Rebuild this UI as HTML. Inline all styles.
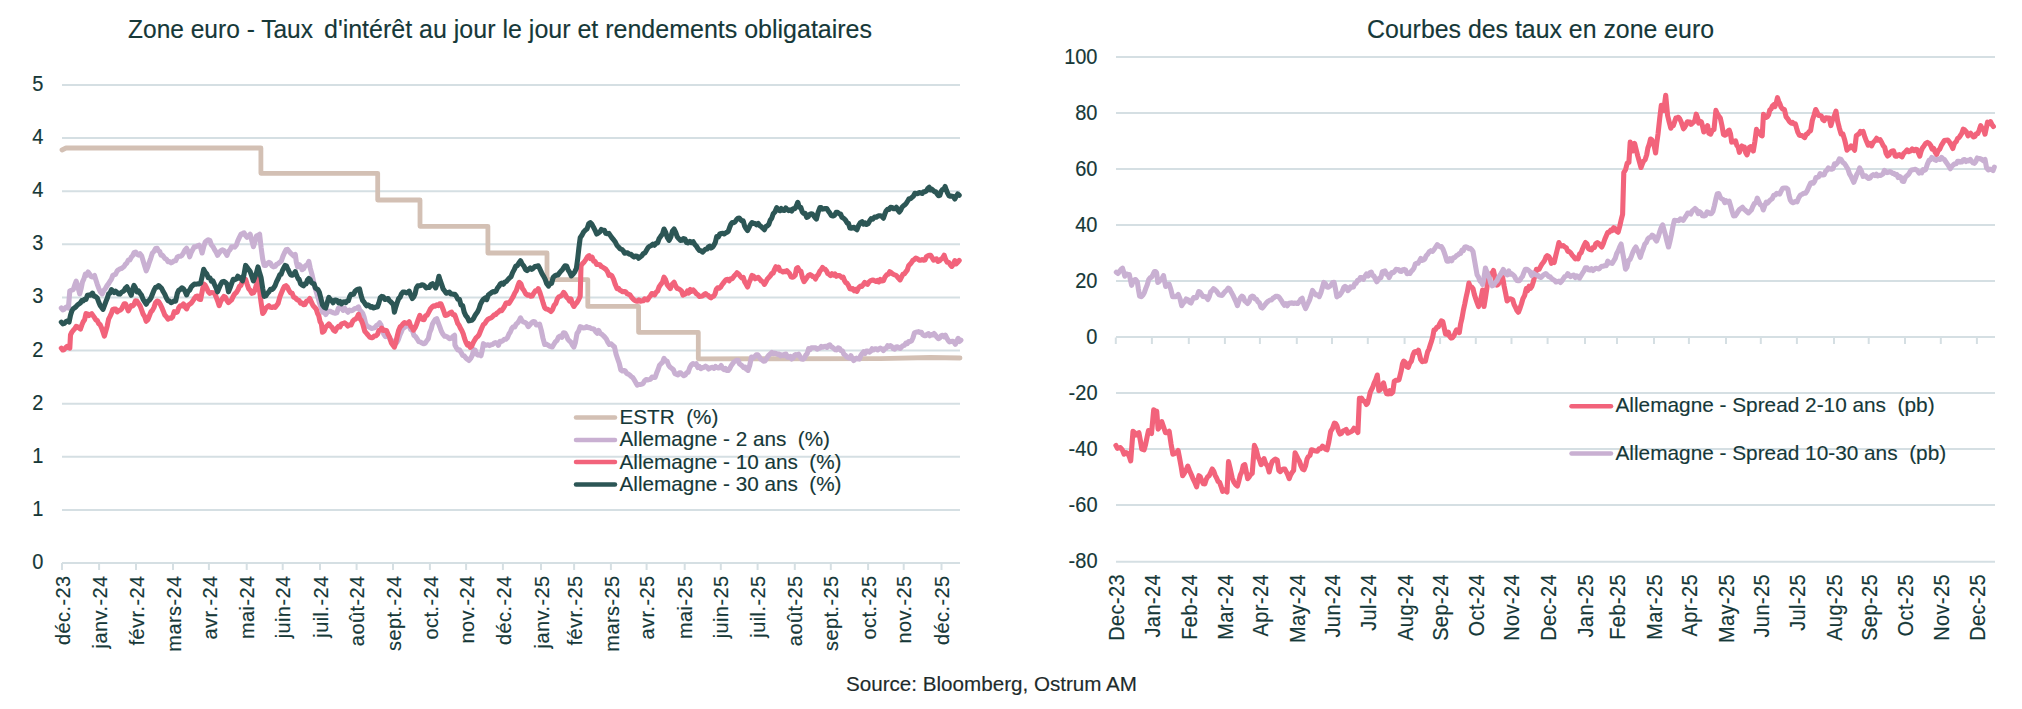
<!DOCTYPE html><html><head><meta charset="utf-8"><style>html,body{margin:0;padding:0;background:#fff;}svg{display:block;}text{font-family:"Liberation Sans",sans-serif;fill:#163838;white-space:pre;stroke:#163838;stroke-width:0.15px;}</style></head><body>
<svg width="2022" height="709" viewBox="0 0 2022 709">
<rect width="2022" height="709" fill="#fff"/>
<text x="128" y="38" font-size="25.4" textLength="185" lengthAdjust="spacingAndGlyphs">Zone euro - Taux</text>
<text x="324" y="38" font-size="25.4" textLength="548" lengthAdjust="spacingAndGlyphs">d'intérêt au jour le jour et rendements obligataires</text>
<text x="1367" y="38" font-size="25.4" textLength="347" lengthAdjust="spacingAndGlyphs">Courbes des taux en zone euro</text>
<text x="846" y="690.5" font-size="20.5" style="fill:#1e2b2b;stroke:#1e2b2b" textLength="291" lengthAdjust="spacingAndGlyphs">Source: Bloomberg, Ostrum AM</text>
<line x1="62" x2="960" y1="563.00" y2="563.00" stroke="#d5dfe3" stroke-width="2"/>
<text transform="translate(43.5,569.00) scale(1,1.06)" font-size="20" text-anchor="end">0</text>
<line x1="62" x2="960" y1="509.89" y2="509.89" stroke="#d5dfe3" stroke-width="2"/>
<text transform="translate(43.5,515.89) scale(1,1.06)" font-size="20" text-anchor="end">1</text>
<line x1="62" x2="960" y1="456.78" y2="456.78" stroke="#d5dfe3" stroke-width="2"/>
<text transform="translate(43.5,462.78) scale(1,1.06)" font-size="20" text-anchor="end">1</text>
<line x1="62" x2="960" y1="403.67" y2="403.67" stroke="#d5dfe3" stroke-width="2"/>
<text transform="translate(43.5,409.67) scale(1,1.06)" font-size="20" text-anchor="end">2</text>
<line x1="62" x2="960" y1="350.56" y2="350.56" stroke="#d5dfe3" stroke-width="2"/>
<text transform="translate(43.5,356.56) scale(1,1.06)" font-size="20" text-anchor="end">2</text>
<line x1="62" x2="960" y1="297.44" y2="297.44" stroke="#d5dfe3" stroke-width="2"/>
<text transform="translate(43.5,303.44) scale(1,1.06)" font-size="20" text-anchor="end">3</text>
<line x1="62" x2="960" y1="244.33" y2="244.33" stroke="#d5dfe3" stroke-width="2"/>
<text transform="translate(43.5,250.33) scale(1,1.06)" font-size="20" text-anchor="end">3</text>
<line x1="62" x2="960" y1="191.22" y2="191.22" stroke="#d5dfe3" stroke-width="2"/>
<text transform="translate(43.5,197.22) scale(1,1.06)" font-size="20" text-anchor="end">4</text>
<line x1="62" x2="960" y1="138.11" y2="138.11" stroke="#d5dfe3" stroke-width="2"/>
<text transform="translate(43.5,144.11) scale(1,1.06)" font-size="20" text-anchor="end">4</text>
<line x1="62" x2="960" y1="85.00" y2="85.00" stroke="#d5dfe3" stroke-width="2"/>
<text transform="translate(43.5,91.00) scale(1,1.06)" font-size="20" text-anchor="end">5</text>
<line x1="62.0" x2="62.0" y1="563" y2="570" stroke="#d5dfe3" stroke-width="2"/>
<text transform="translate(69.6,575.5) rotate(-90)" font-size="20" letter-spacing="0.4" text-anchor="end">déc.-23</text>
<line x1="99.1" x2="99.1" y1="563" y2="570" stroke="#d5dfe3" stroke-width="2"/>
<text transform="translate(106.7,575.5) rotate(-90)" font-size="20" letter-spacing="0.4" text-anchor="end">janv.-24</text>
<line x1="136.0" x2="136.0" y1="563" y2="570" stroke="#d5dfe3" stroke-width="2"/>
<text transform="translate(143.6,575.5) rotate(-90)" font-size="20" letter-spacing="0.4" text-anchor="end">févr.-24</text>
<line x1="173.0" x2="173.0" y1="563" y2="570" stroke="#d5dfe3" stroke-width="2"/>
<text transform="translate(180.6,575.5) rotate(-90)" font-size="20" letter-spacing="0.4" text-anchor="end">mars-24</text>
<line x1="208.9" x2="208.9" y1="563" y2="570" stroke="#d5dfe3" stroke-width="2"/>
<text transform="translate(216.5,575.5) rotate(-90)" font-size="20" letter-spacing="0.4" text-anchor="end">avr.-24</text>
<line x1="246.7" x2="246.7" y1="563" y2="570" stroke="#d5dfe3" stroke-width="2"/>
<text transform="translate(254.3,575.5) rotate(-90)" font-size="20" letter-spacing="0.4" text-anchor="end">mai-24</text>
<line x1="282.7" x2="282.7" y1="563" y2="570" stroke="#d5dfe3" stroke-width="2"/>
<text transform="translate(290.3,575.5) rotate(-90)" font-size="20" letter-spacing="0.4" text-anchor="end">juin-24</text>
<line x1="320.0" x2="320.0" y1="563" y2="570" stroke="#d5dfe3" stroke-width="2"/>
<text transform="translate(327.6,575.5) rotate(-90)" font-size="20" letter-spacing="0.4" text-anchor="end">juil.-24</text>
<line x1="356.6" x2="356.6" y1="563" y2="570" stroke="#d5dfe3" stroke-width="2"/>
<text transform="translate(364.2,575.5) rotate(-90)" font-size="20" letter-spacing="0.4" text-anchor="end">août-24</text>
<line x1="393.0" x2="393.0" y1="563" y2="570" stroke="#d5dfe3" stroke-width="2"/>
<text transform="translate(400.6,575.5) rotate(-90)" font-size="20" letter-spacing="0.4" text-anchor="end">sept.-24</text>
<line x1="429.9" x2="429.9" y1="563" y2="570" stroke="#d5dfe3" stroke-width="2"/>
<text transform="translate(437.5,575.5) rotate(-90)" font-size="20" letter-spacing="0.4" text-anchor="end">oct.-24</text>
<line x1="466.1" x2="466.1" y1="563" y2="570" stroke="#d5dfe3" stroke-width="2"/>
<text transform="translate(473.7,575.5) rotate(-90)" font-size="20" letter-spacing="0.4" text-anchor="end">nov.-24</text>
<line x1="502.9" x2="502.9" y1="563" y2="570" stroke="#d5dfe3" stroke-width="2"/>
<text transform="translate(510.5,575.5) rotate(-90)" font-size="20" letter-spacing="0.4" text-anchor="end">déc.-24</text>
<line x1="541.0" x2="541.0" y1="563" y2="570" stroke="#d5dfe3" stroke-width="2"/>
<text transform="translate(548.6,575.5) rotate(-90)" font-size="20" letter-spacing="0.4" text-anchor="end">janv.-25</text>
<line x1="574.1" x2="574.1" y1="563" y2="570" stroke="#d5dfe3" stroke-width="2"/>
<text transform="translate(581.7,575.5) rotate(-90)" font-size="20" letter-spacing="0.4" text-anchor="end">févr.-25</text>
<line x1="610.9" x2="610.9" y1="563" y2="570" stroke="#d5dfe3" stroke-width="2"/>
<text transform="translate(618.5,575.5) rotate(-90)" font-size="20" letter-spacing="0.4" text-anchor="end">mars-25</text>
<line x1="646.6" x2="646.6" y1="563" y2="570" stroke="#d5dfe3" stroke-width="2"/>
<text transform="translate(654.2,575.5) rotate(-90)" font-size="20" letter-spacing="0.4" text-anchor="end">avr.-25</text>
<line x1="684.7" x2="684.7" y1="563" y2="570" stroke="#d5dfe3" stroke-width="2"/>
<text transform="translate(692.3,575.5) rotate(-90)" font-size="20" letter-spacing="0.4" text-anchor="end">mai-25</text>
<line x1="720.8" x2="720.8" y1="563" y2="570" stroke="#d5dfe3" stroke-width="2"/>
<text transform="translate(728.4,575.5) rotate(-90)" font-size="20" letter-spacing="0.4" text-anchor="end">juin-25</text>
<line x1="757.6" x2="757.6" y1="563" y2="570" stroke="#d5dfe3" stroke-width="2"/>
<text transform="translate(765.2,575.5) rotate(-90)" font-size="20" letter-spacing="0.4" text-anchor="end">juil.-25</text>
<line x1="794.8" x2="794.8" y1="563" y2="570" stroke="#d5dfe3" stroke-width="2"/>
<text transform="translate(802.4,575.5) rotate(-90)" font-size="20" letter-spacing="0.4" text-anchor="end">août-25</text>
<line x1="830.8" x2="830.8" y1="563" y2="570" stroke="#d5dfe3" stroke-width="2"/>
<text transform="translate(838.4,575.5) rotate(-90)" font-size="20" letter-spacing="0.4" text-anchor="end">sept.-25</text>
<line x1="868.1" x2="868.1" y1="563" y2="570" stroke="#d5dfe3" stroke-width="2"/>
<text transform="translate(875.7,575.5) rotate(-90)" font-size="20" letter-spacing="0.4" text-anchor="end">oct.-25</text>
<line x1="903.7" x2="903.7" y1="563" y2="570" stroke="#d5dfe3" stroke-width="2"/>
<text transform="translate(911.3,575.5) rotate(-90)" font-size="20" letter-spacing="0.4" text-anchor="end">nov.-25</text>
<line x1="941.5" x2="941.5" y1="563" y2="570" stroke="#d5dfe3" stroke-width="2"/>
<text transform="translate(949.1,575.5) rotate(-90)" font-size="20" letter-spacing="0.4" text-anchor="end">déc.-25</text>
<line x1="1116" x2="1995" y1="57.00" y2="57.00" stroke="#d5dfe3" stroke-width="2"/>
<text transform="translate(1097.5,64.00) scale(1,1.06)" font-size="20" text-anchor="end">100</text>
<line x1="1116" x2="1995" y1="113.00" y2="113.00" stroke="#d5dfe3" stroke-width="2"/>
<text transform="translate(1097.5,120.00) scale(1,1.06)" font-size="20" text-anchor="end">80</text>
<line x1="1116" x2="1995" y1="169.00" y2="169.00" stroke="#d5dfe3" stroke-width="2"/>
<text transform="translate(1097.5,176.00) scale(1,1.06)" font-size="20" text-anchor="end">60</text>
<line x1="1116" x2="1995" y1="225.00" y2="225.00" stroke="#d5dfe3" stroke-width="2"/>
<text transform="translate(1097.5,232.00) scale(1,1.06)" font-size="20" text-anchor="end">40</text>
<line x1="1116" x2="1995" y1="281.00" y2="281.00" stroke="#d5dfe3" stroke-width="2"/>
<text transform="translate(1097.5,288.00) scale(1,1.06)" font-size="20" text-anchor="end">20</text>
<line x1="1116" x2="1995" y1="337.00" y2="337.00" stroke="#d5dfe3" stroke-width="2"/>
<text transform="translate(1097.5,344.00) scale(1,1.06)" font-size="20" text-anchor="end">0</text>
<line x1="1116" x2="1995" y1="393.00" y2="393.00" stroke="#d5dfe3" stroke-width="2"/>
<text transform="translate(1097.5,400.00) scale(1,1.06)" font-size="20" text-anchor="end">-20</text>
<line x1="1116" x2="1995" y1="449.00" y2="449.00" stroke="#d5dfe3" stroke-width="2"/>
<text transform="translate(1097.5,456.00) scale(1,1.06)" font-size="20" text-anchor="end">-40</text>
<line x1="1116" x2="1995" y1="505.00" y2="505.00" stroke="#d5dfe3" stroke-width="2"/>
<text transform="translate(1097.5,512.00) scale(1,1.06)" font-size="20" text-anchor="end">-60</text>
<line x1="1116" x2="1995" y1="561.80" y2="561.80" stroke="#d5dfe3" stroke-width="2"/>
<text transform="translate(1097.5,568.00) scale(1,1.06)" font-size="20" text-anchor="end">-80</text>
<line x1="1115.8" x2="1115.8" y1="337.5" y2="344" stroke="#d5dfe3" stroke-width="2"/>
<text transform="translate(1123.7,574) rotate(-90) scale(1,1.06)" font-size="20" letter-spacing="0.4" text-anchor="end">Dec-23</text>
<line x1="1151.9" x2="1151.9" y1="337.5" y2="344" stroke="#d5dfe3" stroke-width="2"/>
<text transform="translate(1159.8,574) rotate(-90) scale(1,1.06)" font-size="20" letter-spacing="0.4" text-anchor="end">Jan-24</text>
<line x1="1188.8" x2="1188.8" y1="337.5" y2="344" stroke="#d5dfe3" stroke-width="2"/>
<text transform="translate(1196.7,574) rotate(-90) scale(1,1.06)" font-size="20" letter-spacing="0.4" text-anchor="end">Feb-24</text>
<line x1="1224.9" x2="1224.9" y1="337.5" y2="344" stroke="#d5dfe3" stroke-width="2"/>
<text transform="translate(1232.8,574) rotate(-90) scale(1,1.06)" font-size="20" letter-spacing="0.4" text-anchor="end">Mar-24</text>
<line x1="1259.9" x2="1259.9" y1="337.5" y2="344" stroke="#d5dfe3" stroke-width="2"/>
<text transform="translate(1267.8,574) rotate(-90) scale(1,1.06)" font-size="20" letter-spacing="0.4" text-anchor="end">Apr-24</text>
<line x1="1296.8" x2="1296.8" y1="337.5" y2="344" stroke="#d5dfe3" stroke-width="2"/>
<text transform="translate(1304.7,574) rotate(-90) scale(1,1.06)" font-size="20" letter-spacing="0.4" text-anchor="end">May-24</text>
<line x1="1332.0" x2="1332.0" y1="337.5" y2="344" stroke="#d5dfe3" stroke-width="2"/>
<text transform="translate(1339.9,574) rotate(-90) scale(1,1.06)" font-size="20" letter-spacing="0.4" text-anchor="end">Jun-24</text>
<line x1="1367.8" x2="1367.8" y1="337.5" y2="344" stroke="#d5dfe3" stroke-width="2"/>
<text transform="translate(1375.7,574) rotate(-90) scale(1,1.06)" font-size="20" letter-spacing="0.4" text-anchor="end">Jul-24</text>
<line x1="1404.6" x2="1404.6" y1="337.5" y2="344" stroke="#d5dfe3" stroke-width="2"/>
<text transform="translate(1412.5,574) rotate(-90) scale(1,1.06)" font-size="20" letter-spacing="0.4" text-anchor="end">Aug-24</text>
<line x1="1440.1" x2="1440.1" y1="337.5" y2="344" stroke="#d5dfe3" stroke-width="2"/>
<text transform="translate(1448.0,574) rotate(-90) scale(1,1.06)" font-size="20" letter-spacing="0.4" text-anchor="end">Sep-24</text>
<line x1="1475.8" x2="1475.8" y1="337.5" y2="344" stroke="#d5dfe3" stroke-width="2"/>
<text transform="translate(1483.7,574) rotate(-90) scale(1,1.06)" font-size="20" letter-spacing="0.4" text-anchor="end">Oct-24</text>
<line x1="1511.5" x2="1511.5" y1="337.5" y2="344" stroke="#d5dfe3" stroke-width="2"/>
<text transform="translate(1519.4,574) rotate(-90) scale(1,1.06)" font-size="20" letter-spacing="0.4" text-anchor="end">Nov-24</text>
<line x1="1547.6" x2="1547.6" y1="337.5" y2="344" stroke="#d5dfe3" stroke-width="2"/>
<text transform="translate(1555.5,574) rotate(-90) scale(1,1.06)" font-size="20" letter-spacing="0.4" text-anchor="end">Dec-24</text>
<line x1="1585.0" x2="1585.0" y1="337.5" y2="344" stroke="#d5dfe3" stroke-width="2"/>
<text transform="translate(1592.9,574) rotate(-90) scale(1,1.06)" font-size="20" letter-spacing="0.4" text-anchor="end">Jan-25</text>
<line x1="1617.0" x2="1617.0" y1="337.5" y2="344" stroke="#d5dfe3" stroke-width="2"/>
<text transform="translate(1624.9,574) rotate(-90) scale(1,1.06)" font-size="20" letter-spacing="0.4" text-anchor="end">Feb-25</text>
<line x1="1654.0" x2="1654.0" y1="337.5" y2="344" stroke="#d5dfe3" stroke-width="2"/>
<text transform="translate(1661.9,574) rotate(-90) scale(1,1.06)" font-size="20" letter-spacing="0.4" text-anchor="end">Mar-25</text>
<line x1="1688.9" x2="1688.9" y1="337.5" y2="344" stroke="#d5dfe3" stroke-width="2"/>
<text transform="translate(1696.8,574) rotate(-90) scale(1,1.06)" font-size="20" letter-spacing="0.4" text-anchor="end">Apr-25</text>
<line x1="1726.0" x2="1726.0" y1="337.5" y2="344" stroke="#d5dfe3" stroke-width="2"/>
<text transform="translate(1733.9,574) rotate(-90) scale(1,1.06)" font-size="20" letter-spacing="0.4" text-anchor="end">May-25</text>
<line x1="1760.8" x2="1760.8" y1="337.5" y2="344" stroke="#d5dfe3" stroke-width="2"/>
<text transform="translate(1768.7,574) rotate(-90) scale(1,1.06)" font-size="20" letter-spacing="0.4" text-anchor="end">Jun-25</text>
<line x1="1796.9" x2="1796.9" y1="337.5" y2="344" stroke="#d5dfe3" stroke-width="2"/>
<text transform="translate(1804.8,574) rotate(-90) scale(1,1.06)" font-size="20" letter-spacing="0.4" text-anchor="end">Jul-25</text>
<line x1="1834.0" x2="1834.0" y1="337.5" y2="344" stroke="#d5dfe3" stroke-width="2"/>
<text transform="translate(1841.9,574) rotate(-90) scale(1,1.06)" font-size="20" letter-spacing="0.4" text-anchor="end">Aug-25</text>
<line x1="1868.7" x2="1868.7" y1="337.5" y2="344" stroke="#d5dfe3" stroke-width="2"/>
<text transform="translate(1876.6,574) rotate(-90) scale(1,1.06)" font-size="20" letter-spacing="0.4" text-anchor="end">Sep-25</text>
<line x1="1905.0" x2="1905.0" y1="337.5" y2="344" stroke="#d5dfe3" stroke-width="2"/>
<text transform="translate(1912.9,574) rotate(-90) scale(1,1.06)" font-size="20" letter-spacing="0.4" text-anchor="end">Oct-25</text>
<line x1="1940.8" x2="1940.8" y1="337.5" y2="344" stroke="#d5dfe3" stroke-width="2"/>
<text transform="translate(1948.7,574) rotate(-90) scale(1,1.06)" font-size="20" letter-spacing="0.4" text-anchor="end">Nov-25</text>
<line x1="1976.9" x2="1976.9" y1="337.5" y2="344" stroke="#d5dfe3" stroke-width="2"/>
<text transform="translate(1984.8,574) rotate(-90) scale(1,1.06)" font-size="20" letter-spacing="0.4" text-anchor="end">Dec-25</text>
<path d="M62.0,150.0 L66.0,148.0 L260.9,148.0 L260.9,173.3 L377.7,173.3 L377.7,200.0 L420.0,200.0 L420.0,226.3 L487.9,226.3 L487.9,253.0 L547.0,253.0 L547.0,279.7 L587.8,279.7 L587.8,306.4 L638.6,306.4 L638.6,332.3 L698.3,332.3 L698.3,358.8 L880.0,358.6 L930.0,357.5 L960.0,358.0" fill="none" stroke="#d3c0b4" stroke-width="4.8" stroke-linejoin="round" stroke-linecap="round"/>
<path d="M61.3,308.0 L62.8,309.8 L64.2,309.3 L65.6,307.5 L67.0,306.8 L68.4,308.0 L69.8,291.0 L71.2,290.3 L73.3,289.6 L74.7,285.2 L76.2,281.2 L77.9,286.9 L79.7,293.9 L81.1,288.7 L82.5,281.8 L83.9,278.9 L85.3,274.1 L86.7,275.3 L88.1,272.0 L89.6,274.0 L91.0,276.6 L92.4,276.9 L94.5,275.5 L95.9,279.9 L97.3,284.3 L98.7,288.2 L100.5,292.1 L102.2,293.9 L103.9,290.3 L105.5,288.3 L107.2,285.4 L108.6,283.6 L110.0,281.2 L111.4,279.2 L112.8,275.5 L114.2,274.7 L115.6,274.3 L117.1,271.0 L118.5,269.8 L119.9,268.9 L121.3,268.5 L122.7,267.6 L124.1,266.5 L125.5,264.2 L126.9,263.0 L128.3,260.1 L129.8,260.0 L131.2,257.3 L132.7,255.6 L134.1,252.6 L135.6,252.0 L137.1,254.3 L138.5,255.1 L140.0,253.7 L141.6,255.8 L143.1,260.7 L144.7,266.1 L146.2,270.8 L147.8,267.0 L149.3,262.3 L150.9,257.8 L152.4,253.0 L154.0,251.5 L155.5,248.6 L157.1,248.3 L158.4,250.7 L159.7,251.4 L161.0,255.3 L162.3,255.1 L163.6,256.7 L164.8,258.4 L166.4,259.2 L168.0,261.7 L169.5,261.5 L171.1,262.9 L172.6,262.0 L174.2,260.7 L175.7,260.7 L177.3,257.1 L178.8,256.4 L180.4,256.3 L181.9,255.3 L183.5,252.8 L185.0,250.0 L186.6,248.3 L188.1,251.3 L189.7,256.8 L191.2,252.4 L192.8,249.5 L194.3,246.7 L195.9,246.7 L197.5,245.9 L199.0,245.2 L200.6,247.6 L202.1,253.0 L203.7,246.8 L205.2,242.1 L206.8,240.6 L208.3,239.7 L209.9,240.5 L211.4,244.9 L213.0,246.7 L214.5,249.6 L216.1,252.2 L217.6,255.3 L219.2,252.9 L220.7,250.9 L222.3,249.8 L223.9,250.6 L225.4,252.7 L227.0,255.3 L228.5,251.3 L230.1,249.7 L231.6,246.7 L233.2,246.8 L234.7,247.1 L236.3,245.2 L237.8,240.8 L239.4,237.4 L240.9,234.4 L242.5,233.6 L244.0,232.8 L245.6,235.6 L247.1,237.4 L248.7,236.0 L250.2,234.3 L251.8,240.6 L253.4,246.7 L254.9,242.0 L256.5,235.9 L258.0,235.4 L259.6,234.3 L261.1,247.5 L262.7,259.2 L264.2,265.4 L265.8,265.4 L267.3,263.5 L268.9,262.3 L270.4,263.0 L272.0,265.9 L273.5,266.9 L275.1,266.4 L276.6,264.3 L278.2,263.6 L279.8,262.3 L281.3,261.1 L282.9,256.4 L284.4,253.0 L286.0,249.8 L287.5,249.4 L289.1,251.3 L290.6,253.1 L292.2,254.5 L293.7,256.0 L295.3,254.5 L296.4,262.6 L297.6,266.9 L299.2,264.6 L300.6,266.1 L302.1,269.7 L303.5,268.9 L304.8,266.6 L306.1,265.2 L307.4,264.6 L308.8,261.4 L310.3,268.4 L311.9,274.1 L313.5,281.2 L315.1,288.1 L316.7,293.2 L318.3,298.5 L319.7,303.7 L321.1,307.3 L322.5,312.2 L324.1,311.8 L325.7,314.6 L327.3,312.3 L328.9,311.2 L330.4,311.4 L332.0,312.2 L333.6,312.9 L335.2,313.3 L336.8,312.9 L338.4,308.1 L340.0,308.1 L341.5,308.0 L343.1,310.3 L344.7,308.3 L346.3,310.3 L347.9,312.2 L349.5,310.2 L351.1,310.7 L352.7,310.2 L354.2,309.0 L355.6,308.5 L357.1,307.9 L358.5,306.9 L359.9,310.4 L361.3,311.5 L362.7,313.3 L364.1,317.2 L365.5,323.2 L366.9,326.0 L368.5,326.8 L370.1,327.6 L371.7,328.5 L373.3,328.1 L374.9,327.5 L376.5,325.5 L378.0,324.7 L379.6,322.8 L381.0,324.9 L382.4,330.5 L383.9,334.4 L385.4,336.6 L387.0,336.3 L388.6,336.1 L390.2,339.7 L391.8,340.3 L393.4,343.4 L395.0,343.2 L396.6,342.9 L398.1,340.1 L399.7,335.6 L401.3,331.9 L402.9,328.1 L404.5,327.5 L406.1,325.9 L407.7,325.8 L409.2,326.0 L410.8,329.6 L412.4,330.5 L414.0,335.5 L415.6,336.6 L417.2,339.0 L418.8,341.6 L420.4,342.1 L421.9,342.9 L423.5,343.7 L425.1,343.2 L426.7,340.9 L428.3,338.7 L429.7,332.5 L431.1,329.3 L432.5,323.9 L433.9,321.4 L435.3,319.4 L436.7,318.6 L438.3,322.9 L439.9,327.2 L441.5,331.6 L443.1,334.4 L444.7,336.3 L446.3,336.4 L447.9,337.3 L449.4,338.7 L451.2,338.3 L452.9,336.6 L454.6,335.3 L454.9,345.0 L456.4,347.8 L457.9,349.9 L459.4,349.7 L461.0,352.3 L462.6,355.3 L464.2,355.9 L465.8,357.8 L467.4,359.3 L469.0,360.5 L470.6,358.5 L472.2,355.5 L473.8,349.7 L475.2,350.1 L476.7,354.1 L478.1,355.1 L479.6,354.6 L481.0,355.7 L482.2,350.7 L483.4,343.7 L484.9,345.3 L486.5,345.1 L488.0,344.7 L489.5,345.6 L491.1,344.7 L492.6,344.5 L494.1,343.1 L495.5,342.6 L497.0,343.0 L498.4,345.4 L499.9,341.3 L501.3,341.5 L502.8,340.7 L504.3,339.2 L505.8,339.2 L507.3,337.9 L508.9,334.2 L510.4,331.8 L511.8,328.5 L513.3,326.8 L514.7,327.0 L516.2,324.0 L517.6,322.9 L519.1,320.8 L520.5,317.8 L522.1,320.9 L523.6,322.1 L525.1,322.4 L526.6,323.6 L528.2,326.7 L529.9,324.8 L531.5,322.9 L533.2,321.6 L534.8,321.8 L536.4,325.0 L538.0,324.8 L539.6,324.2 L541.3,330.4 L543.0,338.4 L544.7,344.5 L546.2,344.1 L547.7,344.9 L549.2,346.0 L550.8,346.5 L552.3,347.0 L553.9,344.3 L555.5,341.7 L557.0,340.5 L558.6,336.9 L560.2,336.0 L561.8,337.3 L563.4,332.9 L565.0,333.1 L566.5,335.8 L567.9,339.3 L569.4,340.9 L570.9,342.2 L572.4,345.2 L573.9,347.0 L575.4,342.4 L577.0,333.5 L578.6,331.1 L580.2,326.7 L581.8,327.1 L583.4,328.0 L585.0,327.8 L586.6,326.7 L588.1,327.7 L589.6,327.6 L591.1,328.4 L592.6,328.7 L594.2,329.2 L595.7,331.7 L597.2,333.2 L598.7,330.4 L600.3,333.5 L601.8,334.3 L603.3,335.6 L604.8,337.1 L606.4,339.1 L607.9,342.3 L609.4,344.5 L611.1,343.8 L612.8,345.5 L614.5,347.0 L616.1,354.3 L617.7,359.0 L619.2,363.2 L620.8,369.9 L622.3,371.0 L623.8,370.5 L625.3,371.0 L626.7,373.4 L628.2,374.1 L629.7,374.9 L631.2,376.5 L632.8,377.6 L634.3,379.9 L635.8,382.6 L637.3,385.1 L638.8,384.5 L640.2,384.5 L641.7,384.1 L643.1,383.4 L644.6,380.8 L646.0,379.5 L647.5,380.0 L649.0,379.6 L650.5,379.2 L652.1,377.0 L653.6,377.4 L655.1,377.5 L656.6,373.1 L658.1,369.5 L659.5,365.2 L661.0,363.7 L662.5,362.3 L664.0,358.4 L665.6,360.6 L667.2,361.4 L668.7,365.3 L670.3,367.3 L671.9,368.5 L673.4,369.8 L674.9,373.6 L676.4,374.3 L677.9,374.9 L679.4,372.9 L680.8,372.9 L682.3,374.5 L683.8,375.7 L685.2,375.0 L686.7,372.8 L688.1,372.4 L689.8,367.5 L691.5,364.6 L693.2,363.5 L694.7,364.5 L696.2,363.7 L697.8,367.5 L699.3,366.4 L700.8,368.6 L702.4,367.8 L704.0,367.3 L705.6,366.2 L707.1,367.1 L708.5,369.0 L709.9,368.2 L711.3,367.6 L712.7,367.3 L714.1,368.3 L715.5,366.4 L716.9,367.6 L718.3,367.9 L719.7,367.7 L721.2,365.5 L722.6,368.4 L724.0,369.7 L725.4,368.5 L726.8,370.4 L728.2,370.5 L729.6,368.9 L731.0,366.0 L732.4,364.1 L733.9,361.9 L735.3,361.1 L736.7,360.3 L738.1,360.2 L739.5,363.9 L740.9,364.8 L742.3,366.0 L743.7,367.6 L745.1,367.0 L746.5,369.3 L748.0,370.4 L749.7,365.4 L751.5,357.0 L753.1,357.9 L754.7,356.7 L756.2,354.9 L757.8,354.9 L759.2,356.7 L760.6,359.0 L762.1,359.9 L763.5,361.2 L764.9,361.0 L766.3,359.0 L767.7,356.6 L769.1,354.9 L770.5,353.8 L771.9,352.4 L773.3,353.7 L774.8,353.1 L776.2,353.5 L777.6,354.5 L779.0,354.0 L780.4,355.8 L781.8,354.8 L783.2,355.7 L784.6,354.2 L786.0,354.1 L787.4,357.1 L788.9,357.3 L790.3,356.4 L791.7,359.1 L793.1,358.0 L794.5,355.3 L795.9,354.5 L797.3,355.2 L798.7,354.2 L800.1,356.8 L801.6,359.0 L803.0,359.2 L804.4,358.4 L805.8,355.0 L807.2,353.6 L808.6,348.7 L810.0,349.6 L811.4,347.8 L812.8,347.8 L814.2,347.7 L815.7,347.8 L817.1,349.2 L818.5,348.5 L819.9,348.1 L821.3,346.4 L822.7,347.2 L824.1,346.5 L825.5,346.4 L826.9,347.4 L828.3,345.5 L829.8,344.8 L831.2,346.7 L832.6,347.4 L834.0,348.5 L835.4,349.7 L836.8,349.9 L838.2,347.8 L839.6,348.5 L841.0,350.6 L842.5,351.0 L843.9,354.3 L845.3,355.1 L846.7,356.8 L848.1,357.7 L849.5,358.1 L850.9,355.7 L852.3,358.6 L853.7,360.5 L855.1,359.3 L856.6,358.1 L858.0,358.9 L859.4,359.1 L860.8,355.5 L862.2,353.5 L863.6,351.8 L865.0,353.5 L866.4,351.0 L867.8,351.1 L869.3,352.1 L870.7,351.1 L872.1,348.7 L873.5,349.9 L874.9,348.9 L876.3,348.8 L877.7,349.9 L879.1,348.8 L880.5,348.1 L881.9,348.9 L883.4,350.6 L884.8,348.7 L886.2,348.1 L887.6,345.7 L889.0,346.5 L890.4,345.5 L891.8,346.5 L893.2,348.7 L894.6,349.2 L896.1,347.1 L897.5,346.8 L898.9,347.9 L900.3,348.5 L901.7,346.7 L903.1,345.6 L904.5,345.2 L905.9,343.0 L907.3,343.6 L908.7,341.5 L910.2,341.6 L911.6,340.8 L913.0,337.7 L914.4,332.9 L915.8,332.3 L917.2,332.1 L918.6,331.6 L920.0,332.5 L921.4,332.3 L922.8,334.7 L924.3,335.8 L925.7,335.8 L927.1,334.3 L928.5,333.7 L929.9,335.7 L931.3,334.5 L932.7,335.0 L934.1,333.5 L935.5,335.1 L937.0,337.3 L938.4,338.7 L939.8,338.0 L941.2,335.7 L942.6,335.3 L944.0,336.7 L945.4,335.1 L946.8,338.1 L948.2,340.4 L949.6,341.9 L951.1,341.5 L952.5,341.3 L953.9,341.7 L955.3,344.3 L956.7,341.5 L958.1,338.3 L959.5,341.5 L960.9,340.1" fill="none" stroke="#c9b0d2" stroke-width="5.1" stroke-linejoin="round" stroke-linecap="round"/>
<path d="M61.3,348.2 L62.8,350.0 L64.2,349.5 L65.6,347.7 L67.0,346.5 L68.4,347.7 L69.8,348.2 L70.5,334.8 L71.9,332.0 L73.3,330.3 L74.7,328.8 L76.2,326.3 L77.6,326.9 L79.0,328.0 L80.4,329.1 L81.8,325.1 L83.2,321.7 L84.6,319.7 L86.0,313.6 L87.4,314.0 L88.9,315.5 L90.3,314.4 L91.7,313.6 L93.1,315.6 L94.5,317.6 L95.9,319.9 L97.3,320.6 L98.7,323.6 L100.1,324.6 L101.5,327.7 L103.0,332.0 L104.4,336.2 L105.8,331.0 L107.2,326.1 L108.6,319.2 L110.0,316.4 L111.4,313.4 L112.8,309.4 L114.2,309.1 L115.6,309.0 L117.1,311.9 L118.5,310.8 L119.9,310.2 L121.3,309.4 L122.7,306.8 L124.1,303.8 L125.5,303.7 L126.9,307.0 L128.3,310.8 L129.8,307.9 L131.2,305.6 L132.6,306.0 L134.0,304.5 L135.4,300.9 L136.9,301.1 L138.5,303.5 L140.0,305.7 L141.6,309.9 L143.1,314.1 L144.7,316.7 L146.2,321.3 L147.8,319.7 L149.3,316.0 L150.9,311.9 L152.4,310.4 L154.0,307.4 L155.5,302.7 L157.1,301.1 L158.6,301.4 L160.2,304.2 L161.7,307.3 L163.3,311.2 L164.8,315.1 L166.4,316.8 L168.0,319.1 L169.5,318.0 L171.1,318.2 L172.6,316.9 L174.2,311.7 L175.7,312.5 L177.3,312.0 L178.8,307.6 L180.4,305.7 L181.9,305.9 L183.5,303.9 L185.0,306.9 L186.6,308.9 L188.1,305.4 L189.7,304.2 L191.2,303.1 L192.8,301.0 L194.3,298.6 L195.9,296.4 L197.5,296.0 L199.0,299.0 L200.6,299.5 L202.1,291.8 L203.7,284.0 L205.2,285.3 L206.8,288.2 L208.3,291.8 L209.9,293.4 L211.4,292.5 L213.0,292.7 L214.5,293.3 L216.1,296.9 L217.6,300.8 L219.2,305.7 L220.7,301.5 L222.3,298.7 L223.9,296.4 L225.4,297.3 L227.0,300.7 L228.5,302.6 L230.1,301.2 L231.6,299.9 L233.2,296.4 L234.7,293.9 L236.3,292.5 L237.8,290.2 L239.4,286.4 L240.9,285.4 L242.5,280.9 L244.0,280.0 L245.6,279.3 L247.1,284.1 L248.7,288.7 L250.2,290.3 L251.8,293.3 L253.4,292.9 L254.9,290.2 L256.5,284.4 L258.0,277.8 L259.6,291.0 L261.1,302.5 L262.7,313.5 L264.2,311.8 L265.8,308.3 L267.3,306.8 L268.9,305.7 L270.4,307.3 L272.0,307.5 L273.5,306.7 L275.1,307.3 L276.6,305.4 L278.2,303.2 L279.8,297.1 L281.3,293.3 L282.9,289.5 L284.4,286.5 L286.0,285.6 L287.5,287.3 L289.1,290.6 L290.6,292.9 L292.2,293.3 L293.7,297.2 L295.3,297.8 L296.8,299.5 L298.0,300.1 L299.2,300.6 L300.6,303.3 L302.1,303.0 L303.5,304.8 L305.0,304.5 L306.6,301.1 L308.2,300.6 L309.8,298.5 L311.4,302.1 L313.0,305.5 L314.6,307.2 L316.2,309.0 L317.5,313.4 L318.8,315.9 L320.1,321.7 L321.4,323.9 L322.5,332.3 L324.1,331.0 L325.7,327.2 L327.3,325.7 L328.9,323.9 L330.4,325.9 L332.0,327.4 L333.6,330.4 L335.2,331.3 L336.8,328.2 L338.4,326.4 L340.0,327.0 L341.5,323.9 L343.1,323.5 L344.7,322.8 L346.3,324.2 L347.9,326.0 L349.5,324.8 L351.1,325.0 L352.7,321.3 L354.2,319.6 L355.6,319.1 L357.1,317.5 L358.5,314.3 L359.9,318.7 L361.3,320.4 L362.7,323.9 L364.8,331.3 L366.4,333.1 L368.0,335.0 L369.6,337.0 L371.2,337.6 L372.8,337.6 L374.3,336.0 L375.9,335.8 L377.5,334.4 L378.9,330.5 L380.3,330.2 L381.7,328.1 L383.3,330.5 L384.9,330.4 L386.5,330.6 L388.1,334.4 L389.7,337.4 L391.3,342.8 L392.8,345.0 L394.4,347.1 L395.8,342.4 L397.3,335.9 L398.7,330.2 L400.1,326.9 L401.5,325.9 L402.9,323.9 L404.5,322.6 L406.1,323.2 L407.7,323.2 L409.2,321.7 L410.7,326.2 L412.1,327.6 L413.5,330.2 L415.1,327.7 L416.7,323.9 L418.2,319.6 L419.8,315.4 L421.2,318.4 L422.6,319.4 L424.1,319.6 L425.6,315.8 L427.2,315.1 L428.8,312.1 L430.4,309.0 L432.0,307.1 L433.6,305.9 L435.2,306.2 L436.7,304.8 L438.2,305.6 L439.6,303.9 L441.0,303.8 L442.4,307.5 L443.8,311.2 L445.2,315.4 L446.8,315.3 L448.4,314.1 L450.0,312.9 L451.6,312.2 L453.1,314.8 L454.6,314.9 L454.9,315.4 L456.3,319.2 L457.7,323.4 L459.1,325.2 L460.4,328.1 L461.8,330.5 L463.2,333.7 L464.6,338.6 L466.0,342.3 L467.4,345.0 L468.8,343.8 L470.2,347.3 L471.7,346.1 L473.2,342.7 L474.7,340.1 L476.2,337.7 L477.6,336.6 L479.1,334.6 L480.5,331.0 L482.0,327.5 L483.4,324.5 L484.9,323.5 L486.5,320.9 L488.0,319.2 L489.5,318.4 L491.1,317.9 L492.6,316.6 L494.1,315.0 L495.7,314.5 L497.2,312.8 L498.7,311.8 L500.2,310.2 L501.7,310.7 L503.1,308.6 L504.6,306.1 L506.0,303.1 L507.5,302.9 L508.9,303.4 L510.4,301.3 L511.9,298.8 L513.3,296.4 L514.8,293.0 L516.3,290.6 L517.8,286.0 L519.3,282.3 L520.9,283.8 L522.4,288.4 L524.0,290.6 L525.6,293.7 L527.3,295.1 L529.0,294.9 L530.7,296.2 L532.2,296.0 L533.7,293.3 L535.3,290.9 L536.8,290.9 L538.3,288.6 L539.9,292.5 L541.5,297.5 L543.1,302.9 L544.7,307.7 L546.2,309.0 L547.8,309.3 L549.4,310.3 L551.0,311.5 L552.6,309.4 L554.2,305.2 L555.8,303.5 L557.4,298.8 L558.9,296.8 L560.5,296.2 L562.1,295.1 L563.7,292.4 L565.2,294.3 L566.6,297.2 L568.1,298.5 L569.5,301.1 L571.0,299.0 L572.4,303.7 L573.9,306.4 L575.4,304.3 L577.0,302.6 L578.6,299.8 L580.2,296.2 L581.0,265.8 L582.6,263.6 L584.2,261.9 L585.8,259.6 L587.5,256.8 L589.1,255.6 L590.6,258.7 L592.1,257.3 L593.7,261.3 L595.2,261.6 L596.7,264.5 L598.2,264.4 L599.8,264.7 L601.3,266.5 L602.8,267.2 L604.3,268.3 L605.8,269.2 L607.4,271.4 L608.9,275.3 L610.4,274.8 L611.9,275.9 L613.6,279.4 L615.3,284.6 L617.0,288.6 L618.5,288.4 L619.9,290.2 L621.4,290.8 L622.8,291.8 L624.3,291.5 L625.7,292.0 L627.2,293.7 L628.6,294.3 L630.1,295.1 L631.5,297.2 L633.0,298.9 L634.4,300.3 L635.9,301.0 L637.3,301.3 L638.8,299.9 L640.2,301.2 L641.7,300.9 L643.1,300.8 L644.6,298.9 L646.0,299.6 L647.5,300.0 L648.9,297.6 L650.4,295.9 L651.8,293.5 L653.3,293.8 L654.7,294.8 L656.2,292.1 L657.6,291.2 L659.2,286.7 L660.8,284.4 L662.4,282.4 L664.0,277.2 L665.6,279.7 L667.2,284.6 L668.7,286.6 L670.3,288.6 L671.6,284.9 L672.9,283.5 L674.1,282.3 L675.6,285.9 L677.1,288.4 L678.6,288.7 L680.1,289.8 L681.5,290.9 L683.0,295.0 L684.5,294.4 L685.9,293.5 L687.4,291.0 L688.8,293.0 L690.3,289.5 L691.7,291.2 L693.2,289.9 L694.7,291.5 L696.2,293.6 L697.8,294.6 L699.3,296.4 L700.8,296.2 L702.4,295.9 L703.9,294.7 L705.5,293.6 L707.1,294.9 L708.4,295.6 L709.7,297.1 L711.0,297.9 L712.3,296.7 L713.7,296.1 L715.0,294.0 L716.3,289.4 L717.6,287.8 L719.2,288.3 L720.7,287.1 L722.3,284.3 L723.8,282.5 L725.1,280.6 L726.4,279.5 L727.8,279.4 L729.1,280.8 L730.7,278.9 L732.3,278.7 L733.9,276.3 L735.4,274.8 L737.0,272.8 L738.6,274.0 L740.1,276.1 L741.7,277.9 L743.2,277.3 L744.7,281.9 L746.1,284.2 L747.6,287.0 L749.1,282.4 L750.5,279.5 L752.0,275.5 L753.6,276.2 L755.1,278.8 L756.6,278.1 L758.2,277.3 L759.7,279.1 L761.3,281.0 L762.8,281.7 L764.4,284.3 L765.9,281.9 L767.4,278.9 L769.0,277.2 L770.5,275.5 L771.8,273.5 L773.2,273.0 L774.5,269.5 L775.8,266.7 L777.2,268.9 L778.6,267.2 L780.0,270.8 L781.5,271.0 L782.9,272.0 L784.2,271.3 L785.5,271.7 L786.8,270.7 L788.2,272.0 L789.6,273.7 L791.1,276.8 L792.6,277.3 L793.9,276.7 L795.2,275.2 L796.5,268.6 L797.8,267.6 L799.4,270.7 L800.9,271.2 L802.5,277.8 L804.0,281.7 L805.6,279.5 L807.1,277.3 L808.6,275.3 L810.2,274.6 L811.5,275.4 L812.8,276.6 L814.2,276.9 L815.5,279.0 L816.9,276.0 L818.4,274.4 L819.9,271.1 L821.2,269.6 L822.5,267.5 L823.9,269.0 L825.2,269.3 L826.5,270.9 L827.8,273.6 L829.1,274.3 L830.5,275.5 L831.9,273.8 L833.4,275.1 L834.9,273.9 L836.3,276.3 L837.8,275.6 L839.3,275.5 L840.6,276.3 L841.9,277.6 L843.2,277.2 L844.6,280.8 L845.9,282.7 L847.2,283.5 L848.5,285.6 L849.9,288.7 L851.3,289.1 L852.7,288.5 L854.1,290.7 L855.5,289.4 L856.9,291.4 L858.7,287.6 L860.4,286.1 L861.8,286.4 L863.3,284.5 L864.7,282.4 L866.1,283.9 L867.5,284.3 L868.9,282.1 L870.3,280.9 L871.7,280.3 L873.1,280.0 L874.5,280.8 L876.0,281.5 L877.5,280.4 L878.9,281.9 L880.4,279.4 L881.9,280.9 L883.4,280.8 L885.1,276.8 L886.9,274.6 L888.3,274.2 L889.7,271.7 L891.1,272.5 L892.5,273.8 L893.9,274.6 L895.5,275.1 L897.0,276.3 L898.6,278.3 L900.1,279.9 L901.5,277.1 L902.9,274.3 L904.3,273.9 L905.7,272.0 L907.2,270.2 L908.6,265.8 L910.0,264.3 L911.4,262.6 L912.8,260.5 L914.2,259.6 L915.8,258.0 L917.4,258.8 L919.0,260.1 L920.6,260.3 L922.1,259.6 L923.6,260.2 L925.0,260.0 L926.4,256.7 L927.8,255.9 L929.2,255.2 L930.7,255.4 L932.1,257.7 L933.6,260.2 L935.1,259.6 L936.5,258.8 L938.0,261.4 L939.6,260.7 L941.1,259.1 L942.6,258.1 L944.2,255.2 L945.7,259.7 L947.3,262.3 L948.8,262.5 L950.4,264.9 L951.8,266.4 L953.3,264.3 L954.8,260.6 L956.2,263.9 L957.7,262.2 L959.2,260.5" fill="none" stroke="#f2637b" stroke-width="5.1" stroke-linejoin="round" stroke-linecap="round"/>
<path d="M61.3,322.1 L62.9,323.9 L64.4,323.4 L66.0,321.6 L67.6,320.9 L69.1,322.1 L70.5,315.3 L71.9,310.8 L73.3,308.7 L74.7,307.8 L76.2,306.5 L77.6,304.8 L79.0,303.9 L80.4,302.9 L81.8,300.6 L83.2,300.9 L84.6,299.2 L86.0,299.4 L87.4,295.3 L89.1,295.0 L90.7,295.2 L92.4,293.1 L94.0,296.0 L95.7,296.6 L97.3,298.1 L98.7,302.0 L100.1,305.4 L101.5,307.2 L103.0,309.4 L104.4,305.6 L105.8,301.8 L107.2,298.4 L108.6,293.9 L110.0,293.0 L111.4,289.6 L112.8,290.9 L114.2,292.5 L115.6,291.2 L117.1,292.4 L118.5,293.9 L119.9,294.1 L121.3,292.4 L122.7,291.6 L124.1,290.6 L125.5,288.1 L126.9,286.8 L128.3,289.9 L129.8,292.2 L131.2,295.3 L132.6,289.4 L134.0,285.4 L135.5,288.1 L137.0,291.8 L138.5,290.9 L140.0,293.3 L141.6,295.4 L143.1,299.3 L144.7,301.8 L146.2,304.2 L147.8,301.4 L149.3,300.3 L150.9,298.0 L152.4,294.2 L154.0,290.2 L155.5,287.4 L157.1,287.2 L158.6,285.6 L160.2,286.9 L161.7,288.5 L163.3,291.8 L164.8,294.3 L166.4,298.0 L168.0,300.8 L169.5,301.1 L171.1,302.7 L172.6,302.0 L174.2,300.9 L175.7,301.1 L177.3,293.4 L178.8,290.2 L180.4,289.4 L181.9,287.9 L183.5,288.7 L185.0,291.2 L186.6,294.9 L188.1,291.3 L189.7,290.2 L191.2,287.0 L192.8,285.4 L194.3,284.0 L195.9,284.3 L197.5,283.9 L199.0,283.9 L200.6,283.2 L202.1,276.7 L203.7,269.3 L205.2,272.2 L206.8,274.0 L208.3,277.8 L209.9,277.9 L211.4,281.2 L213.0,280.9 L214.5,284.5 L216.1,287.9 L217.6,291.8 L219.2,287.9 L220.7,284.3 L222.3,281.7 L223.9,281.4 L225.4,282.4 L227.0,284.0 L228.5,291.8 L230.1,287.8 L231.6,283.7 L233.2,279.3 L234.7,279.7 L236.3,278.9 L237.8,276.2 L239.4,278.1 L240.9,277.9 L242.5,280.9 L244.0,274.6 L245.6,265.4 L247.1,267.3 L248.7,269.6 L250.2,271.6 L251.8,276.3 L253.4,280.9 L254.9,276.9 L256.5,272.7 L258.0,266.9 L259.6,272.8 L261.1,277.8 L262.7,288.4 L264.2,296.4 L265.8,295.9 L267.3,293.6 L268.9,291.8 L270.4,289.4 L272.0,289.5 L273.5,288.2 L275.1,285.6 L276.6,281.7 L278.2,278.5 L279.8,274.7 L281.1,274.3 L282.5,270.4 L283.8,267.8 L285.2,265.4 L286.5,266.1 L287.9,269.2 L289.3,272.1 L290.6,274.7 L292.2,275.2 L293.7,274.0 L295.3,271.6 L296.8,275.8 L298.4,279.3 L299.2,279.4 L300.6,283.8 L302.1,285.0 L303.5,285.8 L304.8,283.9 L306.1,284.0 L307.4,279.9 L308.8,278.4 L310.1,279.4 L311.4,282.5 L312.7,283.5 L314.0,283.7 L315.4,288.0 L316.7,288.8 L318.0,289.7 L319.3,292.1 L320.9,298.4 L322.5,304.8 L324.1,307.2 L325.7,308.0 L327.3,302.4 L328.9,297.4 L330.3,299.4 L331.7,300.8 L333.1,302.7 L334.5,300.3 L335.9,300.0 L337.3,300.6 L338.7,302.9 L340.1,301.5 L341.5,303.8 L343.0,302.0 L344.4,301.8 L345.8,302.7 L347.1,301.0 L348.4,300.7 L349.7,296.5 L351.1,294.2 L352.4,294.4 L353.7,294.2 L355.0,291.4 L356.4,290.0 L357.9,289.2 L359.5,288.9 L361.1,295.6 L362.7,300.6 L364.0,302.0 L365.3,304.1 L366.7,305.8 L368.0,304.8 L369.3,305.6 L370.6,307.2 L372.0,306.6 L373.3,308.0 L374.7,307.6 L376.1,306.9 L377.5,306.9 L378.9,302.9 L380.3,297.6 L381.7,296.4 L383.3,296.7 L384.9,299.5 L386.5,299.0 L388.1,298.5 L389.4,300.9 L390.7,301.7 L392.1,303.3 L393.4,304.8 L394.4,312.2 L395.8,306.9 L397.3,302.3 L398.7,298.5 L400.1,297.3 L401.5,293.8 L402.9,292.1 L404.5,292.0 L406.1,292.9 L407.7,292.6 L409.2,291.1 L410.8,295.3 L412.4,298.5 L413.7,296.9 L415.1,293.8 L416.4,287.8 L417.7,285.8 L419.1,285.9 L420.5,285.5 L421.9,284.7 L423.3,284.9 L424.8,286.2 L426.2,287.9 L427.8,287.3 L429.3,287.5 L430.9,284.5 L432.5,283.7 L434.1,285.7 L435.7,287.9 L437.3,283.5 L438.9,276.3 L440.3,280.7 L441.7,284.6 L443.1,288.9 L444.7,291.0 L446.3,293.2 L447.9,292.8 L449.4,292.1 L450.8,294.0 L452.2,294.0 L453.6,294.4 L454.9,294.2 L456.4,296.3 L457.9,299.3 L459.4,299.3 L461.0,305.1 L462.6,305.4 L464.2,312.1 L465.8,315.6 L467.4,317.5 L469.0,320.9 L470.5,320.5 L471.9,320.3 L473.3,318.8 L474.8,315.9 L476.2,313.7 L477.6,311.8 L479.1,308.5 L480.5,304.1 L482.0,301.3 L483.4,299.3 L485.1,298.0 L486.7,299.6 L488.4,294.8 L490.1,293.7 L491.6,292.5 L493.0,291.6 L494.5,291.9 L496.0,291.2 L497.5,288.0 L499.0,286.1 L500.4,283.7 L501.9,283.0 L503.4,284.2 L504.9,282.1 L506.4,281.5 L507.8,279.7 L509.4,278.0 L511.0,276.7 L512.6,272.6 L514.2,269.6 L515.8,266.1 L517.4,265.5 L519.0,262.7 L520.5,260.7 L522.2,264.2 L523.9,266.2 L525.6,269.6 L527.1,270.6 L528.7,269.2 L530.2,268.0 L531.7,269.3 L533.2,268.3 L534.9,266.6 L536.6,266.2 L538.3,265.8 L540.0,269.2 L541.7,272.9 L543.4,275.9 L545.1,279.1 L546.8,283.8 L548.5,286.1 L550.1,283.6 L551.6,283.4 L553.2,277.4 L554.8,275.9 L556.4,275.1 L558.0,275.0 L559.6,272.7 L561.2,270.9 L562.4,269.7 L563.7,267.5 L565.0,265.8 L566.6,266.0 L568.1,269.8 L569.7,272.4 L571.3,275.9 L573.0,274.2 L574.7,271.9 L576.4,268.3 L577.7,258.6 L578.9,247.9 L580.2,237.8 L581.9,235.3 L583.6,232.0 L585.3,230.2 L587.0,229.0 L588.7,223.9 L590.4,222.6 L591.9,224.3 L593.5,227.2 L595.1,230.3 L596.7,234.0 L598.2,233.1 L599.8,232.0 L601.3,229.5 L602.8,230.3 L604.3,230.2 L605.8,233.4 L607.4,233.8 L608.9,233.4 L610.4,235.6 L611.9,237.8 L613.6,239.7 L615.3,242.0 L617.0,245.5 L618.5,247.0 L620.1,248.8 L621.6,249.3 L623.1,250.6 L624.6,253.1 L626.2,252.9 L627.8,252.9 L629.4,254.2 L631.0,254.4 L632.5,255.9 L634.0,257.0 L635.6,256.0 L637.1,256.2 L638.6,258.2 L640.2,257.0 L641.8,255.8 L643.4,253.4 L644.9,253.1 L646.5,250.3 L648.1,247.5 L649.7,246.3 L651.3,245.5 L652.9,244.1 L654.5,245.3 L656.1,243.2 L657.6,242.9 L659.2,238.4 L660.8,236.2 L662.4,234.2 L664.0,229.0 L665.7,232.4 L667.4,237.7 L669.1,240.4 L670.8,237.1 L672.4,231.1 L674.1,229.0 L675.7,232.3 L677.3,236.9 L678.9,238.8 L680.5,240.4 L682.0,240.3 L683.5,238.5 L685.1,239.2 L686.6,242.6 L688.1,242.9 L689.8,241.3 L691.5,242.7 L693.2,241.7 L694.8,244.5 L696.4,246.1 L697.9,248.6 L699.5,250.5 L701.0,250.8 L702.5,252.1 L704.0,250.6 L705.5,249.3 L707.1,249.0 L708.4,247.0 L709.7,246.2 L711.0,248.0 L712.3,247.3 L713.8,245.4 L715.3,242.5 L716.7,236.7 L718.3,237.0 L719.8,234.0 L721.4,233.5 L722.9,233.2 L724.2,234.0 L725.6,233.0 L726.9,232.3 L728.2,231.4 L729.5,227.8 L730.9,224.3 L732.2,222.5 L733.5,222.6 L735.0,221.9 L736.4,219.8 L737.9,218.2 L739.2,218.1 L740.6,219.6 L741.9,220.9 L743.2,220.8 L744.7,226.3 L746.1,228.7 L747.6,230.5 L749.1,227.4 L750.5,224.5 L752.0,222.6 L753.6,223.4 L755.1,223.5 L756.6,224.9 L758.2,223.5 L759.7,225.6 L761.3,226.7 L762.8,228.2 L764.4,229.7 L765.8,226.6 L767.3,225.9 L768.8,224.4 L770.2,220.3 L771.7,218.2 L773.2,213.8 L774.9,212.0 L776.7,207.6 L778.2,209.9 L779.8,210.7 L781.3,208.5 L782.9,210.3 L784.3,210.5 L785.8,208.0 L787.3,209.7 L788.7,210.6 L790.2,209.8 L791.7,211.1 L793.2,208.9 L794.8,208.7 L796.3,206.1 L797.8,202.3 L799.3,207.4 L800.8,207.4 L802.3,212.0 L803.7,213.4 L805.2,213.3 L806.7,217.3 L808.1,216.8 L809.6,214.6 L811.1,213.8 L812.4,214.0 L813.7,215.7 L815.0,217.5 L816.4,219.1 L818.1,212.4 L819.9,207.6 L821.2,207.5 L822.5,209.1 L823.9,208.9 L825.2,208.5 L826.7,208.5 L828.3,210.9 L829.8,213.0 L831.3,215.6 L832.9,216.0 L834.5,215.4 L836.1,212.4 L837.7,212.4 L839.3,213.8 L840.6,214.0 L841.9,217.2 L843.2,217.9 L844.6,219.1 L845.9,220.7 L847.2,223.0 L848.5,223.4 L849.9,227.9 L851.3,228.2 L852.7,227.4 L854.1,227.2 L855.5,228.7 L856.9,229.7 L858.7,225.3 L860.4,222.6 L862.0,221.7 L863.5,224.1 L865.1,222.8 L866.6,224.4 L868.2,223.7 L869.7,220.8 L871.2,218.6 L872.8,219.1 L874.5,217.0 L876.3,217.3 L877.7,216.2 L879.1,215.8 L880.5,215.7 L881.9,216.4 L883.4,218.2 L884.7,214.4 L886.0,211.1 L887.5,209.3 L889.1,209.5 L890.6,207.4 L892.2,207.6 L893.6,208.7 L895.0,208.8 L896.4,207.3 L897.8,209.8 L899.2,212.0 L900.6,210.4 L902.0,207.3 L903.5,205.8 L904.9,204.7 L906.3,203.2 L907.7,201.0 L909.1,198.7 L910.5,198.8 L911.9,197.4 L913.3,196.2 L914.8,193.4 L916.3,193.6 L917.7,193.6 L919.2,192.5 L920.7,192.9 L922.1,193.5 L923.6,191.7 L925.0,191.6 L926.4,190.9 L927.8,188.4 L929.2,187.3 L930.5,189.9 L931.8,189.2 L933.2,190.4 L934.5,191.7 L935.8,191.8 L937.1,193.9 L938.5,195.7 L939.8,195.3 L941.1,191.5 L942.4,189.6 L943.7,189.5 L945.1,186.5 L946.4,190.3 L947.7,193.4 L949.0,195.8 L950.4,196.2 L951.8,196.1 L953.3,196.5 L954.8,199.1 L956.2,196.4 L957.7,194.0 L959.2,195.3" fill="none" stroke="#2c5655" stroke-width="5.1" stroke-linejoin="round" stroke-linecap="round"/>
<path d="M1115.9,445.4 L1117.4,448.3 L1118.9,447.9 L1120.4,447.6 L1122.2,449.6 L1124.1,454.2 L1125.9,452.5 L1127.8,453.5 L1129.3,456.5 L1130.7,460.9 L1133.0,431.3 L1134.4,432.4 L1135.9,435.0 L1137.4,433.7 L1138.9,432.8 L1140.4,440.7 L1141.8,449.1 L1144.1,449.8 L1145.5,444.8 L1147.0,437.4 L1148.5,430.5 L1150.0,432.9 L1151.5,433.5 L1153.7,409.8 L1155.2,410.9 L1156.7,411.3 L1158.1,429.1 L1160.0,426.1 L1161.8,421.7 L1163.7,427.3 L1165.5,432.8 L1167.4,432.8 L1169.2,431.3 L1171.1,444.2 L1172.9,454.2 L1174.7,453.5 L1176.4,452.7 L1178.1,450.5 L1179.6,458.2 L1181.1,466.4 L1182.6,475.7 L1184.3,473.2 L1186.0,470.3 L1187.8,466.1 L1189.6,470.7 L1191.5,475.0 L1193.2,479.2 L1194.9,482.6 L1196.6,486.8 L1198.9,475.7 L1200.3,476.8 L1201.8,481.1 L1203.3,483.8 L1204.8,483.9 L1206.3,479.2 L1207.7,476.7 L1209.2,475.6 L1210.7,472.4 L1212.2,469.0 L1213.7,471.2 L1215.1,475.2 L1216.6,477.9 L1218.1,481.4 L1219.6,482.4 L1221.1,486.5 L1222.6,491.3 L1224.0,489.7 L1225.5,490.9 L1227.0,492.0 L1228.5,461.6 L1230.3,469.2 L1232.2,477.9 L1233.9,482.1 L1235.6,484.5 L1237.4,486.1 L1238.8,481.2 L1240.3,475.0 L1241.8,471.8 L1243.3,465.4 L1244.8,464.6 L1246.2,471.3 L1247.7,478.7 L1249.2,476.8 L1250.7,474.5 L1252.2,473.5 L1254.4,445.4 L1256.2,449.6 L1258.1,457.2 L1259.6,460.1 L1261.1,464.6 L1262.5,462.2 L1264.0,458.7 L1265.7,463.6 L1267.5,465.9 L1269.2,472.0 L1270.7,465.9 L1272.2,461.6 L1273.9,460.0 L1275.6,459.1 L1277.3,460.2 L1278.8,470.5 L1280.3,471.6 L1281.8,469.8 L1283.3,469.1 L1284.8,469.0 L1286.2,471.6 L1287.7,474.6 L1289.2,478.7 L1290.7,474.7 L1292.2,472.3 L1293.6,470.5 L1295.1,452.8 L1296.6,455.9 L1298.1,458.9 L1299.6,461.6 L1301.0,465.9 L1302.5,469.0 L1304.0,469.8 L1305.5,466.1 L1307.0,459.2 L1308.4,456.5 L1309.9,455.5 L1311.4,449.8 L1312.9,450.0 L1314.4,450.7 L1315.9,451.0 L1317.3,451.3 L1319.1,448.8 L1320.8,448.6 L1322.5,446.1 L1324.0,447.7 L1325.5,449.1 L1327.0,449.8 L1328.8,442.1 L1330.7,431.3 L1332.5,428.4 L1334.4,423.1 L1335.5,423.4 L1337.0,425.9 L1338.5,431.1 L1340.0,434.0 L1341.5,433.2 L1343.1,430.9 L1344.7,430.4 L1346.2,429.4 L1347.8,433.2 L1349.3,432.5 L1350.8,431.8 L1352.4,430.9 L1354.0,428.3 L1355.5,429.4 L1356.7,430.7 L1357.9,432.5 L1359.4,398.3 L1360.6,400.0 L1361.7,398.3 L1363.3,400.8 L1364.8,401.4 L1366.4,404.5 L1367.7,403.0 L1369.0,397.8 L1370.3,392.1 L1371.4,389.8 L1372.6,387.5 L1374.2,382.9 L1375.7,379.8 L1377.3,375.0 L1378.8,390.6 L1380.4,389.4 L1381.9,386.3 L1383.5,382.8 L1385.0,389.0 L1386.6,393.7 L1388.2,393.9 L1389.7,390.6 L1391.2,393.6 L1392.8,392.1 L1394.3,381.2 L1395.9,380.4 L1397.4,380.2 L1399.0,379.7 L1400.2,374.9 L1401.3,370.4 L1402.5,363.8 L1403.7,361.1 L1405.2,362.2 L1406.8,366.7 L1408.3,367.3 L1409.8,363.2 L1411.4,361.1 L1413.0,354.9 L1414.5,351.7 L1415.8,351.6 L1417.1,352.4 L1418.4,350.2 L1419.6,355.2 L1420.7,359.5 L1422.3,361.6 L1423.8,360.9 L1425.4,361.1 L1426.6,356.0 L1427.7,351.7 L1429.0,349.1 L1430.3,344.8 L1431.6,340.9 L1432.8,336.5 L1434.0,330.0 L1435.5,329.5 L1436.9,327.2 L1438.4,326.8 L1439.8,323.5 L1441.3,320.9 L1442.8,321.6 L1444.1,327.4 L1445.5,334.0 L1446.9,334.4 L1448.3,332.1 L1449.6,336.2 L1451.0,338.1 L1452.4,337.7 L1453.8,335.9 L1455.1,332.9 L1456.5,329.9 L1457.9,331.3 L1459.3,332.6 L1460.6,324.0 L1462.0,318.1 L1463.4,310.1 L1464.8,303.8 L1466.1,297.2 L1467.5,291.1 L1468.9,283.1 L1470.3,286.8 L1471.6,287.0 L1473.0,288.6 L1474.4,294.6 L1475.8,298.9 L1477.1,302.6 L1478.5,306.5 L1479.9,302.9 L1481.3,296.9 L1482.6,290.0 L1484.0,306.5 L1485.4,298.0 L1486.8,288.7 L1488.1,279.0 L1489.5,275.8 L1490.8,273.6 L1492.2,273.0 L1493.5,270.5 L1495.2,279.1 L1496.9,285.1 L1498.3,284.1 L1499.8,281.0 L1501.2,278.8 L1502.6,277.2 L1504.1,286.0 L1505.6,293.3 L1507.1,301.0 L1508.8,299.4 L1510.5,298.7 L1512.7,299.8 L1514.1,304.6 L1515.6,307.5 L1517.0,310.6 L1518.4,312.2 L1519.9,308.5 L1521.4,304.0 L1522.9,298.7 L1524.6,295.6 L1526.3,288.5 L1527.7,290.6 L1529.1,286.1 L1530.5,288.4 L1531.9,286.3 L1533.1,282.5 L1534.2,278.4 L1536.4,269.3 L1537.8,269.8 L1539.1,269.2 L1540.5,266.6 L1541.8,264.3 L1543.2,262.5 L1544.5,260.6 L1545.9,257.1 L1547.3,255.6 L1548.7,256.4 L1550.0,258.5 L1551.4,263.4 L1552.8,260.8 L1554.2,262.5 L1555.7,255.9 L1557.3,249.5 L1558.9,242.5 L1560.4,245.7 L1561.8,245.9 L1563.3,245.6 L1564.8,247.0 L1566.3,247.7 L1567.8,251.4 L1569.3,251.6 L1570.7,252.9 L1572.2,255.2 L1573.7,256.7 L1575.2,258.8 L1576.7,258.2 L1578.1,258.8 L1579.6,254.0 L1581.1,252.8 L1582.6,248.7 L1584.1,245.4 L1585.5,242.5 L1587.0,243.9 L1588.5,248.7 L1590.0,249.5 L1591.5,249.9 L1592.9,247.5 L1594.4,247.5 L1595.9,243.5 L1597.4,242.5 L1598.9,243.5 L1600.4,245.5 L1601.8,247.0 L1603.3,243.7 L1604.8,239.3 L1606.3,235.7 L1607.8,232.2 L1609.2,232.3 L1610.7,230.1 L1612.2,230.7 L1613.7,227.7 L1615.2,228.7 L1616.6,231.2 L1618.1,232.2 L1619.6,226.9 L1621.1,220.2 L1622.6,214.4 L1623.8,172.6 L1625.5,169.8 L1627.2,163.2 L1628.9,162.5 L1630.2,142.1 L1631.4,147.1 L1632.7,151.0 L1634.6,143.4 L1636.2,149.9 L1637.8,156.1 L1639.4,161.7 L1641.0,167.5 L1642.2,164.3 L1643.5,161.2 L1645.1,159.7 L1646.7,154.8 L1647.9,148.0 L1649.2,144.5 L1650.5,139.0 L1651.7,139.7 L1653.0,142.1 L1654.3,146.5 L1655.6,152.9 L1656.8,142.7 L1658.1,133.3 L1659.7,118.5 L1661.3,105.3 L1662.5,109.8 L1663.8,110.4 L1665.7,95.2 L1667.6,115.5 L1669.2,122.1 L1670.8,128.2 L1672.1,125.8 L1673.3,125.6 L1674.6,121.8 L1675.9,118.0 L1677.1,117.7 L1678.4,117.3 L1679.7,118.7 L1681.0,121.5 L1682.2,124.8 L1683.5,128.8 L1684.8,127.1 L1686.0,125.0 L1687.3,121.8 L1688.6,122.1 L1689.8,122.1 L1691.1,124.4 L1692.4,123.2 L1693.7,122.0 L1694.9,120.6 L1696.2,114.2 L1697.5,117.6 L1698.7,123.1 L1700.0,121.2 L1701.3,121.8 L1702.5,126.0 L1703.8,132.0 L1705.1,129.5 L1706.3,127.7 L1707.6,125.6 L1708.9,133.3 L1710.6,134.1 L1712.3,130.3 L1714.0,129.4 L1715.9,110.4 L1717.4,113.9 L1718.8,116.0 L1720.3,118.0 L1721.9,125.2 L1723.5,134.5 L1724.9,135.2 L1726.3,134.5 L1727.8,131.2 L1729.2,130.1 L1730.5,133.9 L1731.7,142.1 L1733.0,141.9 L1734.3,141.3 L1735.6,140.9 L1736.8,145.4 L1738.1,147.0 L1739.4,152.3 L1740.6,149.1 L1741.9,146.0 L1743.2,147.5 L1744.4,147.2 L1745.7,152.7 L1747.0,154.8 L1748.3,151.0 L1749.5,147.2 L1750.8,146.6 L1752.1,148.2 L1753.3,151.0 L1754.9,141.3 L1756.5,129.4 L1758.1,133.4 L1759.7,132.0 L1761.0,135.3 L1762.2,135.8 L1763.5,114.2 L1764.8,117.1 L1766.0,117.4 L1767.3,116.7 L1768.6,114.8 L1769.8,109.9 L1771.1,109.1 L1772.4,106.1 L1773.7,104.8 L1774.9,106.6 L1776.2,103.0 L1777.5,97.7 L1778.7,101.3 L1780.0,104.0 L1781.0,107.0 L1782.7,109.1 L1784.4,109.5 L1786.1,116.8 L1787.8,118.9 L1789.5,121.6 L1791.2,123.1 L1792.6,122.4 L1794.0,123.9 L1795.4,123.9 L1796.7,128.5 L1797.9,132.4 L1799.3,135.0 L1800.6,135.5 L1802.0,135.6 L1803.3,136.6 L1804.7,137.5 L1806.2,134.3 L1807.7,133.6 L1809.1,131.6 L1810.6,130.7 L1812.3,120.5 L1814.0,115.3 L1815.7,109.5 L1817.1,112.2 L1818.5,115.4 L1819.9,115.5 L1821.3,115.9 L1822.8,119.6 L1824.2,120.5 L1825.9,117.7 L1827.5,118.1 L1829.2,118.0 L1830.9,125.6 L1832.6,119.5 L1834.3,116.0 L1836.0,111.2 L1837.7,121.6 L1839.4,128.2 L1841.1,134.0 L1842.8,133.8 L1844.5,139.2 L1845.7,144.2 L1847.0,150.2 L1848.4,148.4 L1849.8,148.1 L1851.2,145.9 L1852.9,147.4 L1854.6,150.2 L1856.3,135.8 L1857.7,134.6 L1859.0,133.9 L1860.4,131.5 L1861.7,132.3 L1863.1,131.5 L1864.8,136.9 L1866.5,141.3 L1868.2,145.1 L1869.9,143.4 L1871.6,145.9 L1873.2,142.5 L1874.9,140.9 L1876.6,138.3 L1878.3,140.2 L1880.0,139.5 L1881.7,142.5 L1883.2,145.6 L1884.7,147.4 L1886.1,153.3 L1887.6,156.1 L1889.0,155.0 L1890.5,152.0 L1891.9,151.0 L1893.6,150.9 L1895.2,156.1 L1896.6,156.2 L1898.0,155.0 L1899.3,154.6 L1900.7,156.1 L1902.0,156.9 L1903.7,153.4 L1905.4,151.9 L1907.1,149.9 L1908.8,151.7 L1910.5,151.0 L1912.2,149.0 L1913.9,150.6 L1915.6,149.3 L1917.0,149.5 L1918.4,153.0 L1919.8,156.1 L1921.2,150.9 L1922.6,147.8 L1924.0,145.9 L1925.7,143.4 L1927.4,142.4 L1929.1,143.4 L1930.6,145.3 L1932.1,149.1 L1933.7,148.3 L1935.2,152.3 L1936.7,154.4 L1938.2,150.6 L1939.7,149.2 L1941.2,145.7 L1942.6,143.4 L1944.3,140.6 L1946.0,140.2 L1947.7,140.0 L1949.4,141.9 L1951.1,144.9 L1952.8,148.5 L1954.5,143.2 L1956.2,141.7 L1957.6,138.4 L1959.0,137.6 L1960.4,135.5 L1961.8,133.4 L1963.2,129.2 L1964.6,129.9 L1966.3,131.8 L1968.0,135.8 L1969.4,134.7 L1970.7,133.3 L1972.1,135.3 L1973.4,136.9 L1974.8,136.6 L1976.3,133.7 L1977.8,133.7 L1979.2,130.1 L1980.7,125.6 L1982.1,128.2 L1983.5,129.4 L1985.0,134.1 L1986.2,128.5 L1987.5,122.2 L1989.0,123.5 L1990.5,121.6 L1991.9,124.4 L1993.4,126.5" fill="none" stroke="#f2637b" stroke-width="5.1" stroke-linejoin="round" stroke-linecap="round"/>
<path d="M1116.3,272.2 L1118.0,273.5 L1119.7,271.0 L1121.1,269.3 L1122.5,268.2 L1123.6,271.7 L1124.8,276.2 L1126.3,273.8 L1127.8,274.4 L1129.3,274.5 L1130.5,280.3 L1131.6,285.3 L1132.7,282.4 L1133.9,280.1 L1135.6,279.5 L1137.3,281.8 L1138.4,289.2 L1139.6,296.1 L1141.3,296.7 L1143.0,294.9 L1144.4,292.4 L1145.8,288.4 L1147.3,284.6 L1148.7,279.6 L1150.1,277.9 L1151.5,277.2 L1152.9,274.7 L1154.4,271.6 L1155.5,271.5 L1156.6,272.7 L1157.8,282.4 L1159.2,281.4 L1160.6,279.8 L1162.0,278.5 L1163.5,275.6 L1164.6,281.4 L1165.7,286.4 L1167.4,284.6 L1169.1,284.1 L1170.9,289.6 L1172.6,296.6 L1174.0,296.6 L1175.4,296.8 L1176.8,295.9 L1178.2,294.4 L1180.0,298.7 L1181.7,305.7 L1183.2,303.2 L1184.7,301.7 L1186.2,298.9 L1187.9,299.8 L1189.6,302.3 L1191.0,303.1 L1192.4,299.8 L1193.7,297.5 L1195.1,298.0 L1196.4,297.8 L1197.6,295.0 L1198.7,291.5 L1200.1,292.1 L1201.6,294.4 L1203.0,296.5 L1204.4,296.6 L1206.1,296.8 L1207.8,299.5 L1209.2,296.9 L1210.7,291.8 L1212.1,290.6 L1213.5,288.7 L1214.9,289.6 L1216.4,291.0 L1217.8,293.1 L1219.2,294.9 L1220.7,295.3 L1222.2,295.4 L1223.7,293.2 L1225.3,291.4 L1226.8,290.1 L1228.3,288.1 L1229.8,289.3 L1231.3,292.3 L1232.8,294.9 L1234.4,298.4 L1235.9,301.6 L1237.4,305.7 L1238.9,301.3 L1240.4,297.9 L1241.9,296.1 L1243.4,297.3 L1244.8,301.0 L1246.2,302.1 L1247.6,303.5 L1249.2,301.4 L1250.7,297.1 L1252.2,296.1 L1253.6,296.7 L1255.0,299.0 L1256.5,299.3 L1257.9,301.8 L1259.4,302.9 L1260.9,307.2 L1262.4,308.0 L1263.9,306.1 L1265.5,304.0 L1267.0,302.3 L1268.5,301.0 L1270.0,300.0 L1271.5,300.0 L1272.9,298.3 L1274.3,297.5 L1275.6,296.3 L1277.0,296.2 L1278.3,296.6 L1279.9,298.3 L1281.4,300.6 L1282.9,303.2 L1284.4,305.2 L1285.9,303.7 L1287.4,305.7 L1289.0,303.3 L1290.5,303.1 L1292.0,302.9 L1293.4,303.5 L1294.8,303.0 L1296.3,303.4 L1297.7,303.5 L1299.2,301.8 L1300.7,299.4 L1302.2,298.3 L1303.9,304.6 L1305.6,308.6 L1307.0,305.4 L1308.4,302.5 L1309.7,299.6 L1311.1,295.0 L1312.5,290.4 L1314.2,292.9 L1315.9,294.9 L1317.6,294.9 L1319.3,296.6 L1320.8,293.0 L1322.3,287.8 L1323.8,282.4 L1325.3,283.6 L1326.7,286.8 L1328.1,287.3 L1329.5,286.4 L1331.1,285.1 L1332.6,282.5 L1334.1,282.4 L1335.5,289.1 L1336.9,296.9 L1338.3,295.7 L1339.6,295.3 L1341.0,293.3 L1342.4,291.0 L1343.8,287.3 L1345.1,286.4 L1346.5,287.3 L1347.9,290.7 L1349.3,289.3 L1350.6,286.8 L1352.0,287.3 L1353.4,287.0 L1354.8,283.5 L1356.1,283.3 L1357.5,280.4 L1358.9,280.3 L1360.3,277.6 L1361.8,277.6 L1363.4,279.3 L1365.0,276.2 L1366.5,274.0 L1368.1,276.0 L1369.7,272.8 L1371.3,272.1 L1372.6,275.4 L1374.0,276.1 L1375.4,279.1 L1376.8,281.8 L1378.1,280.1 L1379.5,278.0 L1380.9,277.7 L1382.3,271.9 L1383.6,271.3 L1385.0,270.8 L1386.4,274.3 L1387.8,274.1 L1389.1,277.6 L1390.5,274.6 L1391.9,272.5 L1393.3,272.7 L1394.6,271.4 L1396.0,269.4 L1397.4,269.5 L1398.8,269.8 L1400.1,271.2 L1401.5,271.4 L1402.9,269.7 L1404.3,269.4 L1405.6,270.1 L1407.0,273.7 L1408.4,273.3 L1409.8,273.5 L1411.1,271.5 L1412.5,270.1 L1413.9,268.3 L1415.3,263.9 L1416.6,263.2 L1418.0,263.3 L1419.4,261.0 L1420.8,258.5 L1422.1,260.4 L1423.5,259.8 L1424.9,258.8 L1426.3,255.5 L1427.6,254.3 L1429.2,251.9 L1430.8,250.7 L1432.5,251.5 L1434.1,249.5 L1435.7,247.0 L1437.3,244.6 L1438.6,245.7 L1440.0,246.8 L1441.4,246.5 L1442.8,248.8 L1444.1,252.1 L1445.5,256.3 L1446.9,261.1 L1448.5,261.2 L1450.1,258.6 L1451.7,260.8 L1453.3,257.7 L1454.9,257.4 L1456.5,255.6 L1457.9,255.0 L1459.3,253.6 L1460.6,253.4 L1462.0,250.1 L1463.4,250.6 L1464.8,247.0 L1466.1,246.9 L1467.5,247.4 L1468.9,248.8 L1470.3,248.4 L1471.6,249.6 L1473.0,251.5 L1474.4,259.6 L1475.8,267.6 L1477.1,274.9 L1478.5,277.1 L1479.9,280.9 L1481.3,282.0 L1482.6,284.5 L1484.0,277.7 L1485.4,268.0 L1486.8,271.8 L1488.1,275.0 L1489.5,278.1 L1490.9,283.5 L1492.3,285.9 L1493.8,285.0 L1495.4,282.4 L1497.0,280.8 L1498.6,277.2 L1500.1,275.1 L1501.7,272.4 L1503.3,269.4 L1504.6,271.7 L1506.0,274.2 L1507.4,274.8 L1508.8,271.0 L1510.1,274.2 L1511.5,273.5 L1512.9,274.8 L1514.3,275.9 L1515.6,278.5 L1517.0,280.4 L1518.4,280.7 L1519.8,280.4 L1521.1,278.0 L1522.5,276.3 L1523.9,272.5 L1525.3,269.4 L1526.8,269.3 L1528.4,270.2 L1530.0,271.8 L1531.6,275.6 L1533.1,272.9 L1534.7,274.4 L1536.3,274.9 L1537.8,275.2 L1539.4,276.9 L1541.0,277.5 L1542.6,275.8 L1544.1,274.6 L1545.7,273.5 L1547.3,274.9 L1548.7,276.6 L1550.2,276.8 L1551.6,278.5 L1553.1,279.7 L1554.5,280.3 L1556.0,282.0 L1557.5,281.6 L1558.9,281.1 L1560.4,282.5 L1561.8,281.0 L1563.3,278.7 L1564.8,276.6 L1566.3,276.0 L1567.8,273.6 L1569.3,275.6 L1570.7,276.6 L1572.2,275.4 L1573.7,275.1 L1575.2,277.5 L1576.7,275.9 L1578.1,276.6 L1579.6,278.1 L1581.1,275.5 L1582.6,272.9 L1584.1,270.7 L1585.5,267.7 L1587.0,267.8 L1588.5,269.8 L1590.0,270.1 L1591.5,268.8 L1592.9,270.5 L1594.4,269.2 L1595.9,268.2 L1597.4,268.6 L1598.9,269.0 L1600.4,267.4 L1601.8,266.2 L1603.3,266.3 L1604.8,265.5 L1606.3,265.6 L1607.8,261.1 L1609.2,263.1 L1610.7,262.7 L1612.2,263.3 L1613.7,260.9 L1615.2,258.4 L1616.6,253.8 L1618.1,251.1 L1619.6,247.1 L1621.1,244.0 L1622.6,252.4 L1624.0,260.0 L1625.5,269.2 L1627.0,267.2 L1628.5,260.6 L1630.0,259.4 L1631.5,255.9 L1632.9,252.2 L1634.4,249.1 L1635.9,247.0 L1637.4,250.3 L1638.9,253.5 L1640.3,257.3 L1641.8,252.2 L1643.3,248.5 L1644.8,244.0 L1646.3,242.6 L1647.7,239.1 L1649.2,237.6 L1650.7,237.2 L1652.2,235.1 L1653.7,236.1 L1655.1,239.2 L1656.6,241.1 L1658.1,237.2 L1659.6,232.2 L1661.1,227.9 L1662.6,224.8 L1664.0,229.9 L1665.5,235.1 L1667.0,241.6 L1668.5,247.0 L1670.0,241.1 L1671.4,234.8 L1672.9,226.5 L1674.4,220.3 L1675.9,220.5 L1677.4,220.5 L1678.8,220.6 L1680.3,218.8 L1681.8,219.7 L1683.3,220.3 L1684.8,217.7 L1686.2,215.7 L1687.7,213.1 L1689.2,213.3 L1690.7,214.0 L1692.2,211.0 L1693.7,209.9 L1695.1,208.5 L1696.6,209.9 L1698.1,213.6 L1699.6,211.7 L1701.1,212.9 L1702.5,215.8 L1704.0,215.9 L1705.5,215.6 L1707.0,211.9 L1708.5,212.4 L1709.9,213.6 L1711.4,213.7 L1712.9,211.4 L1714.4,205.6 L1715.9,199.0 L1717.3,193.7 L1718.8,193.6 L1720.3,197.5 L1721.8,199.0 L1723.3,199.6 L1724.8,202.6 L1726.2,200.8 L1727.7,202.2 L1729.2,201.1 L1730.7,206.3 L1732.2,211.7 L1733.6,215.9 L1735.1,215.8 L1736.6,213.9 L1738.1,211.4 L1739.6,209.4 L1741.0,208.5 L1742.5,207.3 L1744.0,209.3 L1745.5,210.4 L1747.0,211.8 L1748.4,212.9 L1749.9,211.4 L1751.4,210.0 L1752.9,206.3 L1754.4,203.3 L1755.9,202.8 L1757.3,198.1 L1758.8,201.5 L1760.3,204.8 L1761.8,205.5 L1763.3,210.0 L1764.7,205.9 L1766.2,202.1 L1767.7,203.0 L1769.2,201.1 L1770.7,199.7 L1772.2,198.6 L1773.7,195.3 L1775.3,195.0 L1776.8,193.3 L1778.3,193.8 L1779.7,194.1 L1781.2,190.9 L1782.7,188.2 L1784.4,188.0 L1786.1,188.0 L1787.8,189.1 L1789.0,195.2 L1790.3,200.1 L1791.7,202.1 L1793.0,202.8 L1794.4,202.0 L1795.7,201.5 L1797.1,201.8 L1798.8,197.6 L1800.5,195.0 L1802.2,194.2 L1803.9,193.2 L1805.5,193.3 L1807.2,190.8 L1808.9,186.8 L1810.6,183.2 L1812.0,182.6 L1813.3,183.2 L1814.7,181.3 L1816.0,177.4 L1817.4,177.2 L1818.7,176.8 L1820.1,173.6 L1821.5,174.7 L1822.8,175.0 L1824.2,174.7 L1825.6,171.3 L1827.0,170.2 L1828.4,167.9 L1829.9,168.9 L1831.4,169.3 L1833.0,168.7 L1834.5,163.8 L1836.0,164.5 L1837.7,162.4 L1839.4,158.9 L1841.1,159.5 L1842.8,162.4 L1844.5,163.6 L1846.2,166.2 L1847.9,169.0 L1849.5,173.9 L1851.0,176.4 L1852.4,179.4 L1853.8,182.3 L1855.3,178.6 L1856.7,174.6 L1858.2,172.2 L1859.7,167.9 L1861.4,171.1 L1863.1,176.4 L1864.4,176.0 L1865.8,175.9 L1867.2,177.5 L1868.5,178.5 L1869.9,178.1 L1871.6,175.9 L1873.2,174.7 L1874.9,175.6 L1876.3,174.3 L1877.6,176.0 L1879.0,175.3 L1880.4,175.4 L1881.7,174.7 L1883.1,173.9 L1884.4,170.3 L1885.8,171.4 L1887.1,172.6 L1888.5,172.2 L1889.8,171.5 L1891.2,172.3 L1892.5,173.4 L1893.9,173.4 L1895.2,174.7 L1896.7,174.4 L1898.1,177.5 L1899.5,176.4 L1900.9,177.4 L1902.3,181.0 L1903.7,181.5 L1905.4,177.2 L1907.1,175.7 L1908.8,173.9 L1910.5,170.9 L1912.2,169.7 L1913.9,169.6 L1915.6,169.3 L1917.2,170.3 L1918.9,173.0 L1920.3,172.1 L1921.7,172.8 L1923.0,169.6 L1924.4,170.4 L1925.7,169.6 L1927.4,164.1 L1929.1,160.3 L1930.5,159.9 L1931.8,157.4 L1933.2,158.2 L1934.5,159.6 L1935.9,160.3 L1937.3,159.3 L1938.7,159.1 L1940.1,159.5 L1941.5,157.4 L1942.9,158.8 L1944.3,159.5 L1945.8,161.7 L1947.3,163.9 L1948.8,166.2 L1950.3,168.8 L1951.7,166.4 L1953.2,165.0 L1954.7,163.7 L1956.2,163.7 L1957.6,161.4 L1959.0,161.4 L1960.4,162.1 L1961.8,161.9 L1963.2,160.0 L1964.6,159.5 L1966.1,161.5 L1967.5,160.3 L1968.9,160.8 L1970.3,159.4 L1971.7,161.5 L1973.1,162.9 L1974.5,163.3 L1975.8,161.5 L1977.2,158.0 L1978.5,158.6 L1979.9,158.6 L1981.6,159.4 L1983.3,160.6 L1985.0,159.5 L1986.6,167.9 L1988.3,170.0 L1990.0,169.1 L1991.7,169.6 L1993.0,170.6 L1994.3,167.1" fill="none" stroke="#c9b0d2" stroke-width="5.1" stroke-linejoin="round" stroke-linecap="round"/>
<line x1="576" x2="615" y1="417.6" y2="417.6" stroke="#d3c0b4" stroke-width="4.5" stroke-linecap="round"/>
<text x="619.5" y="424.1" font-size="20.7">ESTR  (%)</text>
<line x1="576" x2="615" y1="439.9" y2="439.9" stroke="#c9b0d2" stroke-width="4.5" stroke-linecap="round"/>
<text x="619.5" y="446.4" font-size="20.7">Allemagne - 2 ans  (%)</text>
<line x1="576" x2="615" y1="462.1" y2="462.1" stroke="#f2637b" stroke-width="4.5" stroke-linecap="round"/>
<text x="619.5" y="468.6" font-size="20.7">Allemagne - 10 ans  (%)</text>
<line x1="576" x2="615" y1="484.4" y2="484.4" stroke="#2c5655" stroke-width="4.5" stroke-linecap="round"/>
<text x="619.5" y="490.9" font-size="20.7">Allemagne - 30 ans  (%)</text>
<line x1="1571.5" x2="1611" y1="406.3" y2="406.3" stroke="#f2637b" stroke-width="4.5" stroke-linecap="round"/>
<text x="1615.5" y="412.4" font-size="20.8">Allemagne - Spread 2-10 ans  (pb)</text>
<line x1="1571.5" x2="1611" y1="453.6" y2="453.6" stroke="#c9b0d2" stroke-width="4.5" stroke-linecap="round"/>
<text x="1615.5" y="459.7" font-size="20.8">Allemagne - Spread 10-30 ans  (pb)</text>
</svg></body></html>
